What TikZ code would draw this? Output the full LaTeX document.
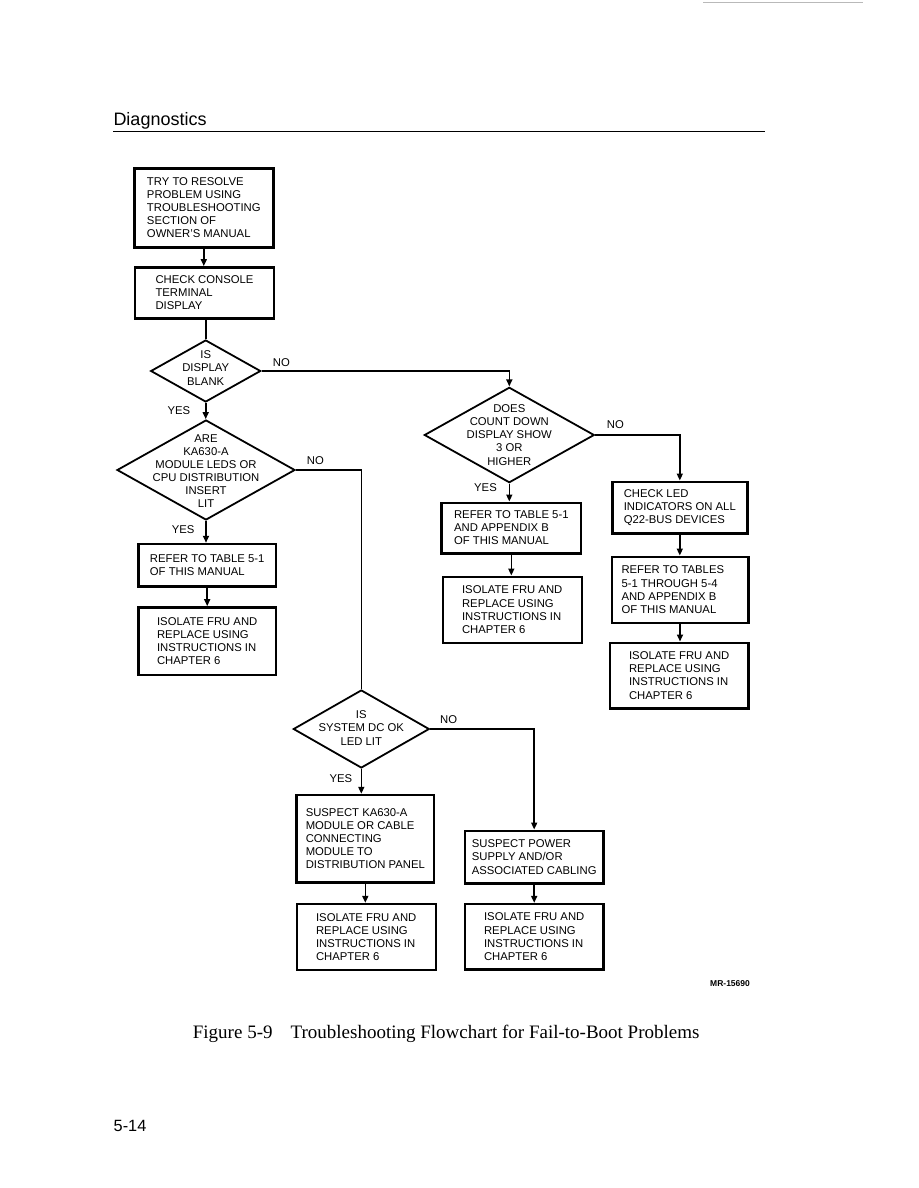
\documentclass[tikz,border=0pt]{standalone}
\usepackage{fontspec}
\setmainfont{Liberation Serif}
\setsansfont{Liberation Sans}
\usetikzlibrary{arrows.meta,shapes.geometric}
\begin{document}
\begin{tikzpicture}[x=1pt,y=-1pt,
  every node/.style={font=\sffamily\fontsize{11.3}{13.1}\selectfont},
  box/.style={draw, line width=2.4pt, rectangle, align=left, inner sep=0pt},
  dia/.style={draw, line width=1.8pt, diamond, inner sep=0pt},
  dtxt/.style={align=center, inner sep=0pt},
  lbl/.style={anchor=west, inner sep=0pt},
  conn/.style={line width=1.6pt},
  arr/.style={conn, -{Triangle[length=7pt,width=6pt]}},
  rule/.style={line width=1.2pt}
]
\useasboundingbox (0,0) rectangle (918,1188);
\fill[white] (0,0) rectangle (918,1188);

% scan artefact at top right
\coordinate (sa) at (703,2.7);
\coordinate (sb) at (863,2.7);
\draw[gray!55, line width=0.8pt] (sa) -- (sb);

% header
\node[anchor=base west, inner sep=0pt, font=\sffamily\fontsize{18}{20}\selectfont] (hdr) at (113.3,125) {Diagnostics};
\coordinate (rl) at (113,131.5);
\coordinate (rr) at (765,131.5);
\draw[rule] (rl) -- (rr);

% boxes
\node[box, minimum width=139pt, minimum height=79pt] (b1) at (203.8,207.8)
  {TRY TO RESOLVE\\PROBLEM USING\\TROUBLESHOOTING\\SECTION OF\\OWNER'S MANUAL};
\node[box, minimum width=139pt, minimum height=51pt] (b2) at (204.5,292.8)
  {CHECK CONSOLE\\TERMINAL\\DISPLAY};
\node[box, minimum width=137.7pt, minimum height=42.7pt] (b3) at (207.2,565.3)
  {REFER TO TABLE 5-1\\OF THIS MANUAL};
\node[box, minimum width=137.7pt, minimum height=67.7pt] (b4) at (207.2,641.2)
  {ISOLATE FRU AND\\REPLACE USING\\INSTRUCTIONS IN\\CHAPTER 6};
\node[box, minimum width=139.3pt, minimum height=50.6pt] (b5) at (511.3,528)
  {REFER TO TABLE 5-1\\AND APPENDIX B\\OF THIS MANUAL};
\node[box, minimum width=139pt, minimum height=66pt] (b6) at (512.2,609.7)
  {ISOLATE FRU AND\\REPLACE USING\\INSTRUCTIONS IN\\CHAPTER 6};
\node[box, minimum width=135pt, minimum height=51.6pt] (b7) at (679.8,507.5)
  {CHECK LED\\INDICATORS ON ALL\\Q22-BUS DEVICES};
\node[box, minimum width=136.6pt, minimum height=66pt] (b8) at (680,589.7)
  {\makebox[117pt][l]{REFER TO TABLES}\\5-1 THROUGH 5-4\\AND APPENDIX B\\OF THIS MANUAL};
\node[box, minimum width=138.3pt, minimum height=65.6pt] (b9) at (679.2,675.5)
  {ISOLATE FRU AND\\REPLACE USING\\INSTRUCTIONS IN\\CHAPTER 6};
\node[box, minimum width=137.3pt, minimum height=87.7pt] (b10) at (365.3,838.8)
  {SUSPECT KA630-A\\MODULE OR CABLE\\CONNECTING\\MODULE TO\\DISTRIBUTION PANEL};
\node[box, minimum width=139pt, minimum height=66pt] (b11) at (366.2,937)
  {ISOLATE FRU AND\\REPLACE USING\\INSTRUCTIONS IN\\CHAPTER 6};
\node[box, minimum width=138.3pt, minimum height=52.6pt] (b12) at (534.2,857)
  {SUSPECT POWER\\SUPPLY AND/OR\\ASSOCIATED CABLING};
\node[box, minimum width=138.3pt, minimum height=65.3pt] (b13) at (534.2,936.7)
  {ISOLATE FRU AND\\REPLACE USING\\INSTRUCTIONS IN\\CHAPTER 6};

% diamonds
\node[dia, minimum width=110pt, minimum height=62pt] (d1) at (205.7,371) {};
\node[dtxt, yshift=3pt] (d1t) at (d1) {IS\\DISPLAY\\BLANK};
\node[dia, minimum width=178pt, minimum height=100pt] (d3) at (206,470) {};
\node[dtxt, yshift=-1pt] (d3t) at (d3) {ARE\\KA630-A\\MODULE LEDS OR\\CPU DISTRIBUTION\\INSERT\\LIT};
\node[dia, minimum width=170pt, minimum height=95.4pt] (d2) at (509.3,435) {};
\node[dtxt] (d2t) at (d2) {DOES\\COUNT DOWN\\DISPLAY SHOW\\3 OR\\HIGHER};
\node[dia, minimum width=136pt, minimum height=78pt] (d4) at (361.3,729) {};
\node[dtxt, yshift=1pt] (d4t) at (d4) {IS\\SYSTEM DC OK\\LED LIT};

% labels
\node[lbl] (l1) at (272.7,362.5) {NO};
\node[lbl] (l2) at (167.3,411) {YES};
\node[lbl] (l3) at (306.7,461) {NO};
\node[lbl] (l4) at (171.7,529.3) {YES};
\node[lbl] (l5) at (606.7,425) {NO};
\node[lbl] (l6) at (474,487.3) {YES};
\node[lbl] (l7) at (440,719.3) {NO};
\node[lbl] (l8) at (329.3,778.3) {YES};

% connectors
\draw[arr] (b1.south) -- (b1.south |- b2.north);
\draw[conn] (d1.north |- b2.south) -- (d1.north);
\draw[arr] (d1.east) -- (d1.east -| d2.north) -- (d2.north);
\draw[arr] (d1.south) -- (d1.south |- d3.north);
\draw[conn] (d3.east) -- (d3.east -| d4.north) -- (d4.north);
\draw[arr] (d3.south) -- (d3.south |- b3.north);
\draw[arr] (b3.south) -- (b3.south |- b4.north);
\draw[arr] (d2.east) -- (d2.east -| b7.north) -- (b7.north);
\draw[arr] (d2.south) -- (d2.south |- b5.north);
\draw[arr] (b5.south) -- (b5.south |- b6.north);
\draw[arr] (b7.south) -- (b7.south |- b8.north);
\draw[arr] (b8.south) -- (b8.south |- b9.north);
\draw[arr] (d4.east) -- (d4.east -| b12.north) -- (b12.north);
\draw[arr] (d4.south) -- (d4.south |- b10.north);
\draw[arr] (b10.south) -- (b10.south |- b11.north);
\draw[arr] (b12.south) -- (b12.south |- b13.north);

% footer texts
\node[anchor=base west, inner sep=0pt, font=\sffamily\bfseries\fontsize{8.5}{10}\selectfont] (mr) at (710,986) {MR-15690};
\node[anchor=base west, inner sep=0pt, font=\rmfamily\fontsize{19}{22}\selectfont] (cap) at (192.7,1038.3)
  {Figure 5-9\hspace{0.95em}Troubleshooting Flowchart for Fail-to-Boot Problems};
\node[anchor=base west, inner sep=0pt, font=\sffamily\fontsize{16.3}{18}\selectfont] (pg) at (113.5,1131) {5-14};
\end{tikzpicture}
\end{document}
